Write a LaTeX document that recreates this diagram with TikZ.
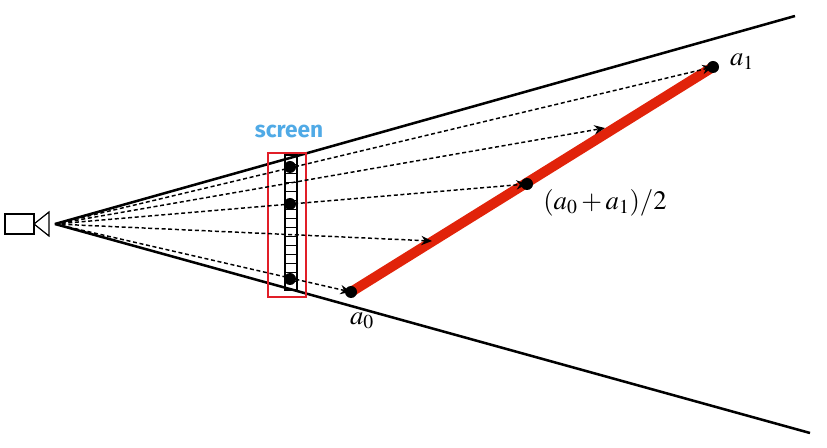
\documentclass[tikz,border=0pt]{standalone}
\usepackage{fontspec}
\usepackage{mathptmx}
\newfontfamily\scrfont{Fira Sans Bold}
\usetikzlibrary{arrows.meta}
\definecolor{scrblue}{RGB}{80,170,230}
\definecolor{segred}{RGB}{225,35,10}
\definecolor{boxred}{RGB}{225,30,40}
\begin{document}
\begin{tikzpicture}[x=0.75pt,y=-0.75pt,
  frust/.style={line width=1.9pt},
  ray/.style={densely dashed,line width=1.1pt,-{Stealth[length=8pt,width=7pt]}},
  dot/.style={circle,fill=black,inner sep=0pt,minimum size=9pt},
  lab/.style={font=\fontsize{20}{20}\selectfont}]
\useasboundingbox (0,0) rectangle (827,448);
% camera
\draw[line width=0.9pt] (5,214) rectangle (34,234);
\draw[line width=0.9pt] (34,224) -- (49,212) -- (49,236) -- cycle;
\coordinate (eye) at (55,224);
\coordinate (fu) at (795,16);
\coordinate (fl) at (810,433);
\draw[frust] (eye) -- (fu);
\draw[frust] (eye) -- (fl);
% screen strip
\draw[line width=0.9pt] (285,155) rectangle (297,290);
\foreach \i in {1,...,15} \draw[line width=0.7pt] (285,{155+\i*9}) -- (297,{155+\i*9});
\node[draw=boxred,line width=1.1pt,minimum width=28.5pt,minimum height=108pt,inner sep=0pt] (box) at (287,225) {};
\node[font=\scrfont\fontsize{17}{17}\selectfont,text=scrblue] (scr) at (289,131) {screen};
% segment
\coordinate (a0) at (351,292);
\coordinate (a1) at (713,67);
\draw[segred,line width=7.5pt] (a0) -- (a1);
\coordinate (m) at (527,184);
\coordinate (q1) at (605,128);
\coordinate (q2) at (432,241);
\node[dot] (s1) at (290,167) {};
\node[dot] (s2) at (290,204) {};
\node[dot] (s3) at (290,279) {};
\draw[ray] (eye) -- (a1);
\draw[ray] (eye) -- (q1);
\draw[ray] (eye) -- (m);
\draw[ray] (eye) -- (q2);
\draw[ray] (eye) -- (a0);
\node[dot] (d0) at (a0) {};
\node[dot] (d1) at (a1) {};
\node[dot] (dm) at (m) {};
\node[lab] (l1) at (742,62) {$a_1$};
\node[lab] (lm) at (605,203) {$(a_0+a_1)/2$};
\node[lab] (l0) at (362,321) {$a_0$};
\end{tikzpicture}
\end{document}
